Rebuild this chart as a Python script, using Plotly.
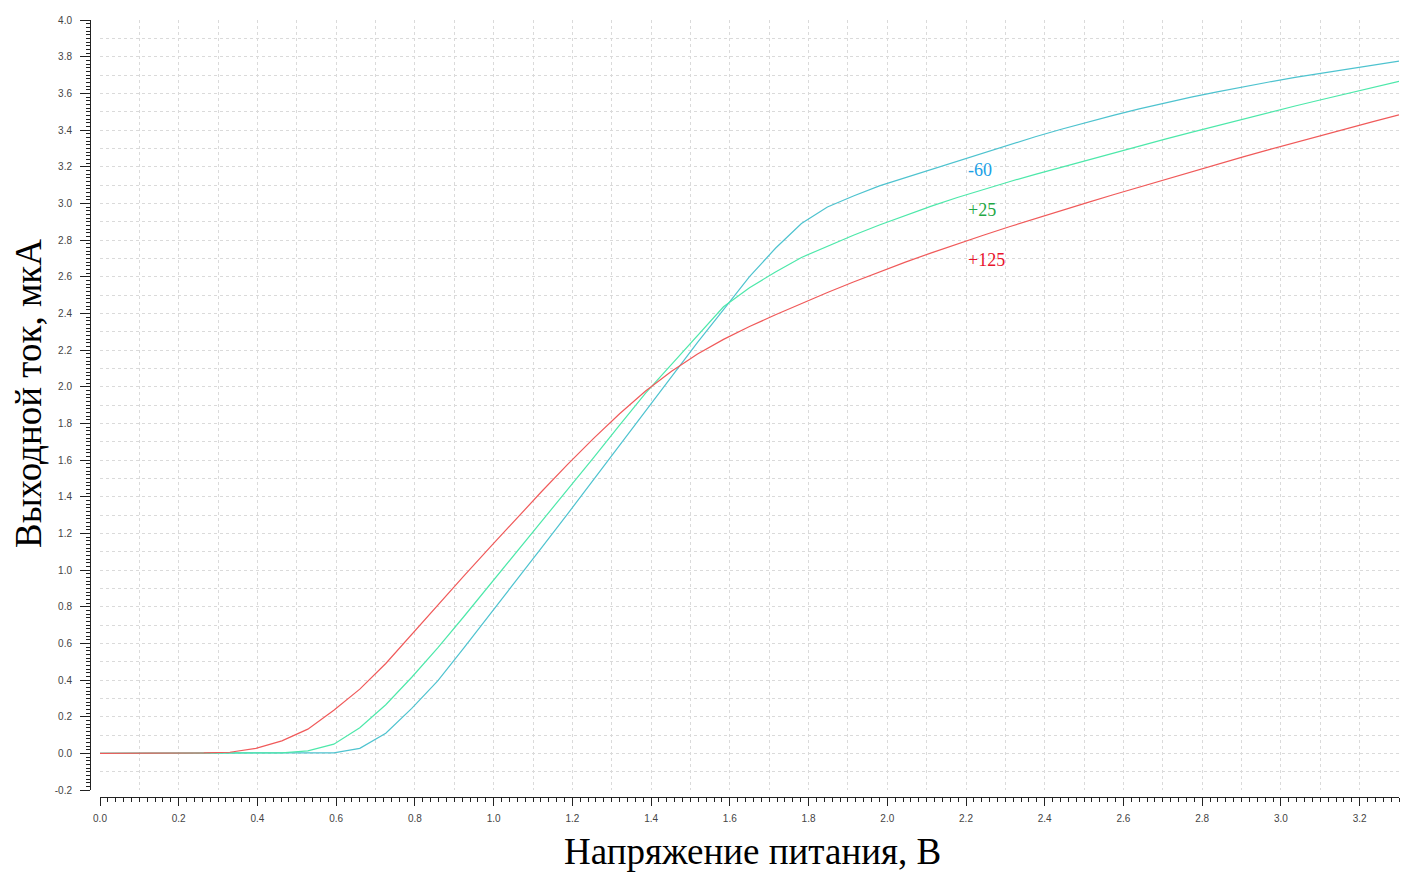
import plotly.graph_objects as go

# Supply voltage, V (step 0.066 V)
voltage = [round(0.066 * k, 3) for k in range(51)]

# Output current, uA, for each temperature
i_m60 = [0, 0, 0, 0, 0, 0, 0, 0.0005, 0.001, 0.003,
         0.027, 0.11, 0.245, 0.395, 0.574, 0.755, 0.938, 1.122, 1.306, 1.494,
         1.684, 1.87, 2.06, 2.242, 2.42, 2.6, 2.755, 2.89, 2.98, 3.04,
         3.095, 3.14, 3.185, 3.23, 3.275, 3.32, 3.363, 3.404, 3.443, 3.48,
         3.515, 3.548, 3.579, 3.608, 3.636, 3.662, 3.687, 3.71, 3.732, 3.754,
         3.776]
i_p25 = [0, 0, 0, 0, 0, 0.0005, 0.001, 0.003, 0.013, 0.05,
         0.14, 0.265, 0.415, 0.575, 0.745, 0.918, 1.091, 1.264, 1.436, 1.613,
         1.79, 1.965, 2.122, 2.28, 2.436, 2.54, 2.625, 2.705, 2.767, 2.826,
         2.882, 2.935, 2.985, 3.032, 3.076, 3.118, 3.158, 3.197, 3.236, 3.274,
         3.312, 3.35, 3.387, 3.424, 3.46, 3.496, 3.531, 3.565, 3.599, 3.632,
         3.665]
i_p125 = [0, 0, 0.0005, 0.001, 0.002, 0.006, 0.027, 0.068, 0.132, 0.235,
          0.35, 0.49, 0.65, 0.81, 0.967, 1.122, 1.276, 1.428, 1.576, 1.718,
          1.852, 1.976, 2.084, 2.178, 2.258, 2.328, 2.392, 2.454, 2.514, 2.571,
          2.626, 2.679, 2.73, 2.779, 2.826, 2.872, 2.917, 2.961, 3.004, 3.047,
          3.089, 3.131, 3.172, 3.213, 3.253, 3.293, 3.332, 3.37, 3.408, 3.446,
          3.483]

series_names = ["-60", "+25", "+125"]
series_values = [i_m60, i_p25, i_p125]
line_colors = ["#4EC3CF", "#4DE8AA", "#F05A5A"]
label_colors = ["#1A9FE6", "#1FA845", "#E8142C"]
label_x = [2.2, 2.2, 2.2]
label_y = [3.18, 2.965, 2.69]

x_title = "Напряжение питания, В"
y_title = "Выходной ток, мкА"

x_range = [0, 3.3]
y_range = [-0.2, 4.0]
y_tick_vals = [round(-0.2 + 0.2 * k, 1) for k in range(22)]
y_tick_text = [f"{v:.1f}" for v in y_tick_vals]

fig = go.Figure()
for name, vals, col in zip(series_names, series_values, line_colors):
    fig.add_trace(go.Scatter(x=voltage, y=vals, mode="lines", name=name,
                             line=dict(color=col, width=1.2), showlegend=False))

# empty trace so the overlay (grid) subplot exists
fig.add_trace(go.Scatter(x=[], y=[], xaxis="x2", yaxis="y2", showlegend=False,
                         hoverinfo="skip"))

for name, xx, yy, col in zip(series_names, label_x, label_y, label_colors):
    fig.add_annotation(x=xx, y=yy, text=name, showarrow=False, xanchor="left",
                       yanchor="middle",
                       font=dict(family="Liberation Serif", size=18, color=col))

W, H = 1422, 886
ml, mr, mt, mb = 90, 23, 20, 89
pw = W - ml - mr
ph = H - mt - mb

tick_font = dict(family="Liberation Sans, Arial", size=10, color="#444")

fig.update_layout(
    width=W, height=H,
    margin=dict(l=ml, r=mr, t=mt, b=mb, pad=0),
    plot_bgcolor="white", paper_bgcolor="white",
    xaxis=dict(domain=[10 / pw, 1], range=x_range, anchor="free", position=0,
               dtick=0.2, tick0=0, tickformat=".1f", ticks="outside", ticklen=8,
               tickcolor="#222", tickwidth=1, showline=True, linecolor="#222",
               linewidth=1, showgrid=False, zeroline=False, tickfont=tick_font,
               ticklabelstandoff=4,
               minor=dict(dtick=0.02, tick0=0, ticks="outside", ticklen=4,
                          tickcolor="#222", showgrid=False)),
    yaxis=dict(domain=[7 / ph, 1], range=y_range, anchor="free", position=0,
               tickmode="array", tickvals=y_tick_vals, ticktext=y_tick_text,
               ticks="outside", ticklen=10,
               tickcolor="#222", tickwidth=1, showline=True, linecolor="#222",
               linewidth=1, showgrid=False, zeroline=False, tickfont=tick_font,
               ticklabelstandoff=6,
               minor=dict(dtick=0.02, tick0=0, ticks="outside", ticklen=4,
                          tickcolor="#222", showgrid=False)),
    xaxis2=dict(overlaying="x", range=x_range, anchor="free", position=0,
                dtick=0.1, tick0=0, showticklabels=False, ticks="",
                showline=False, zeroline=False, showgrid=True,
                gridcolor="#dadada", griddash="dot", gridwidth=1),
    yaxis2=dict(overlaying="y", range=y_range, anchor="free", position=0,
                dtick=0.1, tick0=0, showticklabels=False, ticks="",
                showline=False, zeroline=False, showgrid=True,
                gridcolor="#dadada", griddash="dot", gridwidth=1),
)

fig.add_annotation(xref="paper", yref="paper", x=(28 - ml) / pw,
                   y=(H - mb - 394) / ph, text=y_title, textangle=-90,
                   showarrow=False, xanchor="center", yanchor="middle",
                   font=dict(family="Liberation Serif", size=37, color="black"))
fig.add_annotation(xref="paper", yref="paper", x=(752 - ml) / pw,
                   y=(H - mb - 851) / ph, text=x_title, showarrow=False,
                   xanchor="center", yanchor="middle",
                   font=dict(family="Liberation Serif", size=37, color="black"))

fig.write_html("out.html")
